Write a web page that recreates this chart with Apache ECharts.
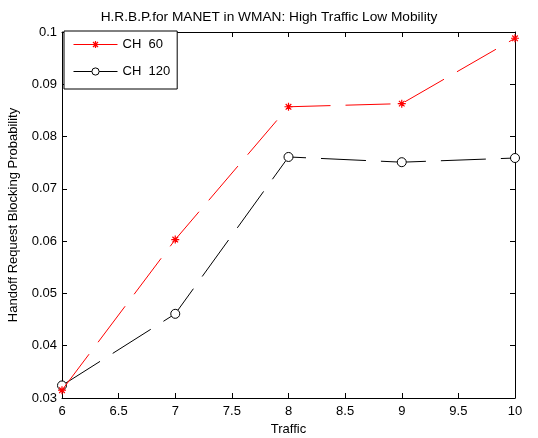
<!DOCTYPE html>
<html>
<head>
<meta charset="utf-8">
<script src="https://cdn.jsdelivr.net/npm/echarts@6/dist/echarts.min.js"></script>
<style>html,body{margin:0;padding:0;background:#fff}#c{width:538px;height:438px}</style>
</head>
<body>
<div id="c"></div>
<script>
var traffic = [6, 7, 8, 9, 10];
var ch60 = [0.0315, 0.0603, 0.0857, 0.0863, 0.0988];
var ch120 = [0.0324, 0.0461, 0.0761, 0.0751, 0.0759];
var seriesNames = ['CH  60', 'CH  120'];
var titleText = 'H.R.B.P.for MANET in WMAN: High Traffic Low Mobility';

function pairs(xs, ys) { return xs.map(function (x, i) { return [x, ys[i]]; }); }
var starPath = 'path://M0,5L10,5M5,0L5,10M1.5,1.5L8.5,8.5M1.5,8.5L8.5,1.5';
var font = 'Liberation Sans, Arial, sans-serif';
var fmt = function (v) { return String(parseFloat(v.toFixed(3))); };
var starStyle = {color: 'rgba(0,0,0,0)', borderColor: '#ff0000', borderWidth: 1.2};
var circleStyle = {color: '#fff', borderColor: '#000', borderWidth: 1};

var chart = echarts.init(document.getElementById('c'), null, {renderer: 'canvas'});
var axisCommon = {
  axisLine: {show: true, onZero: false, lineStyle: {color: '#000', width: 1}},
  axisTick: {show: true, inside: true, length: 5, lineStyle: {color: '#000'}},
  splitLine: {show: false}
};
chart.setOption({
  animation: false,
  backgroundColor: '#fff',
  title: {text: titleText, left: 'center', top: 5,
    textStyle: {fontFamily: font, fontSize: 13.7, fontWeight: 'normal', color: '#000'}},
  grid: {left: 62, right: 23, top: 32, bottom: 40, containLabel: false, outerBoundsMode: 'none'},
  legend: {
    orient: 'vertical', left: 64, top: 31,
    data: [
      {name: seriesNames[0], itemStyle: starStyle},
      {name: seriesNames[1], itemStyle: circleStyle}
    ],
    itemWidth: 44, itemHeight: 9, itemGap: 14,
    padding: [7, 7, 11, 9],
    borderColor: '#000', borderWidth: 1, backgroundColor: '#fff',
    textStyle: {fontFamily: font, fontSize: 13, color: '#000'},
    lineStyle: {type: 'solid', width: 1}
  },
  xAxis: [
    Object.assign({type: 'value', min: 6, max: 10, interval: 0.5,
      name: 'Traffic', nameLocation: 'middle', nameGap: 24,
      nameTextStyle: {fontFamily: font, fontSize: 13, color: '#000'},
      axisLabel: {fontFamily: font, fontSize: 13, color: '#000', margin: 7, formatter: fmt}}, axisCommon),
    Object.assign({type: 'value', position: 'top', min: 6, max: 10, interval: 0.5,
      axisLabel: {show: false}}, axisCommon)
  ],
  yAxis: [
    Object.assign({type: 'value', min: 0.03, max: 0.1, interval: 0.01,
      name: 'Handoff Request Blocking Probability', nameLocation: 'middle', nameGap: 42,
      nameTextStyle: {fontFamily: font, fontSize: 13, color: '#000'},
      axisLabel: {fontFamily: font, fontSize: 13, color: '#000', margin: 5, formatter: fmt}}, axisCommon),
    Object.assign({type: 'value', position: 'right', min: 0.03, max: 0.1, interval: 0.01,
      axisLabel: {show: false}}, axisCommon)
  ],
  series: [
    {
      name: seriesNames[0], type: 'line', data: pairs(traffic, ch60),
      symbol: starPath, symbolSize: 8,
      itemStyle: starStyle,
      lineStyle: {color: '#ff0000', width: 1, type: [45, 15]},
      z: 3
    },
    {
      name: seriesNames[1], type: 'line', data: pairs(traffic, ch120),
      symbol: 'circle', symbolSize: 9,
      itemStyle: circleStyle,
      lineStyle: {color: '#000', width: 1, type: [45, 15]},
      z: 2
    }
  ]
});
</script>
</body>
</html>
